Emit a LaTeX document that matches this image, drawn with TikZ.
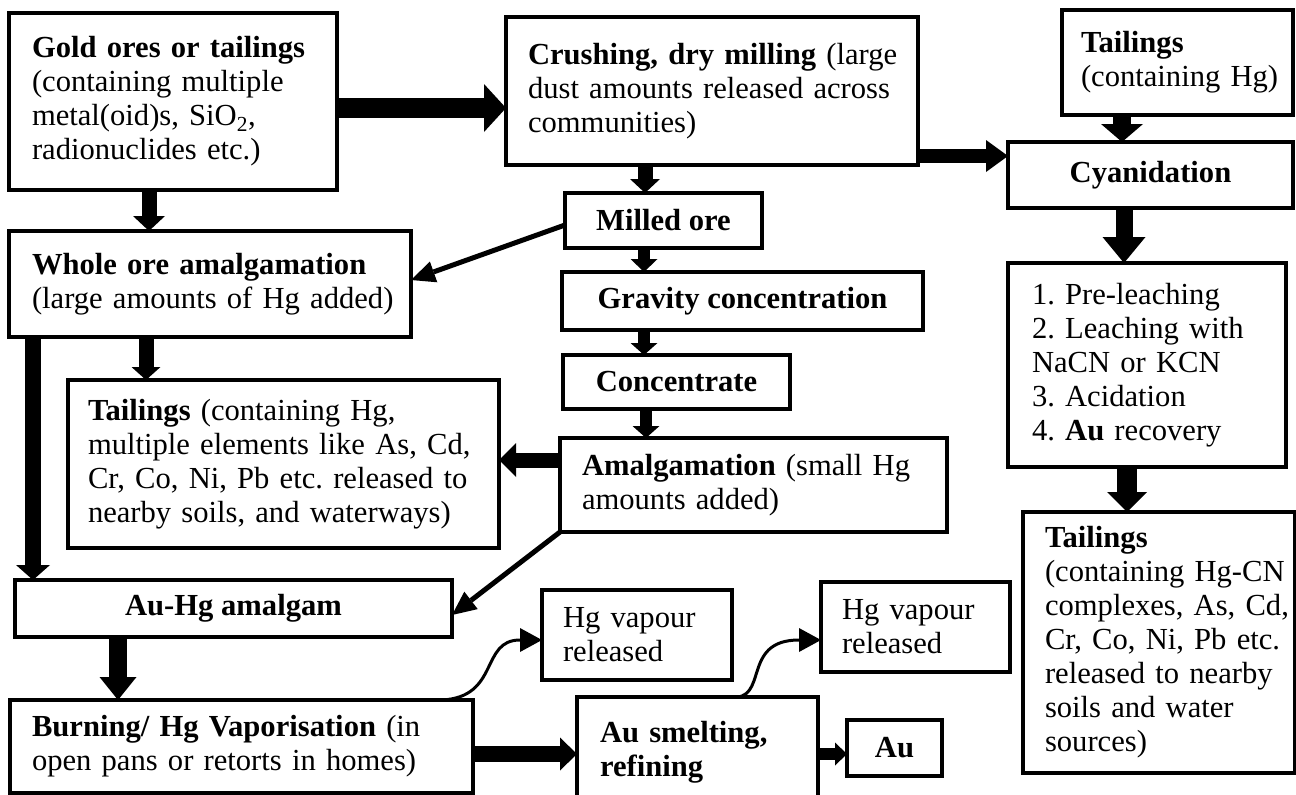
\documentclass[tikz,border=0pt]{standalone}
\usepackage{fontspec}
\setmainfont{Liberation Serif}
\usetikzlibrary{arrows.meta}
\frenchspacing
\tikzset{
  boxst/.style={draw, line width=3.5pt, outer sep=0pt, inner ysep=0pt,
    font=\fontsize{30.6pt}{34pt}\selectfont\frenchspacing},
  fatarrow/.style n args={3}{line width=#1, -{Triangle[width=#2,length=#3,line width=0pt]}},
  thinarrow/.style={line width=5pt, -{Triangle[width=22pt,length=24pt,line width=0pt]}},
  curvearrow/.style={line width=3pt, -{Triangle[width=24pt,length=22pt,line width=0pt]}}
}
% left-aligned box: name, x1, y1, x2, y2, left padding, text
\newcommand{\lbox}[7]{%
  \pgfmathsetmacro{\bxw}{#4-(#2)}%
  \pgfmathsetmacro{\bxh}{#5-(#3)}%
  \pgfmathsetmacro{\bxt}{#4-(#2)-2*(#6)}%
  \node[boxst, anchor=north west, minimum width=\bxw pt, minimum height=\bxh pt,
        inner xsep=0pt, text width=\bxt pt, align=left] (#1) at (#2,#3) {#7};}
% centred box: name, x1, y1, x2, y2, text
\newcommand{\cbox}[6]{%
  \pgfmathsetmacro{\bxw}{#4-(#2)}%
  \pgfmathsetmacro{\bxh}{#5-(#3)}%
  \node[boxst, anchor=north west, minimum width=\bxw pt, minimum height=\bxh pt,
        inner xsep=0pt, align=center] (#1) at (#2,#3) {#6};}
\begin{document}
\begin{tikzpicture}[x=1pt,y=-1pt]
\useasboundingbox (0,0) rectangle (1296,795);
\fill[white] (0,0) rectangle (1296,795);
\clip (0,0) rectangle (1296,795);

\lbox{gold}{9}{13}{337}{190}{23}{\mbox{\textbf{Gold ores or tailings}}\\\mbox{(containing multiple}\\\mbox{metal(oid)s, SiO\textsubscript{2},}\\\mbox{radionuclides etc.)}}
\lbox{crush}{506}{17}{918}{165}{22}{\mbox{\textbf{Crushing, dry milling} (large}\\\mbox{dust amounts released across}\\\mbox{communities)}}
\lbox{tailhg}{1062}{10}{1293}{115}{19}{\mbox{\textbf{Tailings}}\\\mbox{(containing Hg)}}
\cbox{cyan}{1008}{142}{1293}{208}{\textbf{Cyanidation}}
\lbox{pre}{1008}{263}{1286}{467}{24}{\mbox{1. Pre-leaching}\\\mbox{2. Leaching with}\\\mbox{NaCN or KCN}\\\mbox{3. Acidation}\\\mbox{4. \textbf{Au} recovery}}
\lbox{tailcn}{1023}{512}{1295}{773}{22}{\mbox{\textbf{Tailings}}\\\mbox{(containing Hg-CN}\\\mbox{complexes, As, Cd,}\\\mbox{Cr, Co, Ni, Pb etc.}\\\mbox{released to nearby}\\\mbox{soils and water}\\\mbox{sources)}}
\cbox{milled}{565}{193}{762}{248}{\textbf{Milled ore}}
\cbox{grav}{562}{272}{923}{330}{\textbf{Gravity concentration}}
\cbox{conc}{563}{355}{790}{409}{\textbf{Concentrate}}
\lbox{amalg}{560}{438}{947}{532}{22}{\mbox{\textbf{Amalgamation} (small Hg}\\\mbox{amounts added)}}
\lbox{whole}{9}{231}{411}{337}{23}{\mbox{\textbf{Whole ore amalgamation}}\\\mbox{(large amounts of Hg added)}}
\lbox{tailhgm}{68}{380}{499}{548}{20}{\mbox{\textbf{Tailings} (containing Hg,}\\\mbox{multiple elements like As, Cd,}\\\mbox{Cr, Co, Ni, Pb etc. released to}\\\mbox{nearby soils, and waterways)}}
\cbox{auhg}{15}{580}{452}{637}{\textbf{Au-Hg amalgam}}
\lbox{burn}{10}{700}{473}{793}{22}{\mbox{\textbf{Burning/ Hg Vaporisation} (in}\\\mbox{open pans or retorts in homes)}}
\lbox{smelt}{577}{697}{818}{808}{23}{\mbox{\textbf{Au smelting,}}\\\mbox{\textbf{refining}}}
\cbox{au}{847}{720}{942}{776}{\textbf{Au}}
\lbox{hga}{542}{590}{732}{680}{21}{\mbox{Hg vapour}\\\mbox{released}}
\lbox{hgb}{821}{582}{1010}{672}{21}{\mbox{Hg vapour}\\\mbox{released}}

% thick arrows
\draw[fatarrow={20pt}{48pt}{22pt}] (gold.east |- 0,108) -- (crush.west |- 0,108);
\draw[fatarrow={14pt}{32pt}{22pt}] (crush.east |- 0,156) -- (cyan.west |- 0,156);
\draw[fatarrow={18pt}{42pt}{18pt}] (1122,0 |- tailhg.south) -- (1122,0 |- cyan.north);
\draw[fatarrow={17pt}{43pt}{26pt}] (1124,0 |- cyan.south) -- (1124,0 |- pre.north);
\draw[fatarrow={20pt}{40pt}{20pt}] (1127,0 |- pre.south) -- (1127,0 |- tailcn.north);
\draw[fatarrow={15pt}{30pt}{14pt}] (645,0 |- crush.south) -- (645,0 |- milled.north);
\draw[fatarrow={12pt}{27pt}{13pt}] (644,0 |- milled.south) -- (644,0 |- grav.north);
\draw[fatarrow={12pt}{27pt}{12pt}] (644,0 |- grav.south) -- (644,0 |- conc.north);
\draw[fatarrow={12pt}{27pt}{12pt}] (646,0 |- conc.south) -- (646,0 |- amalg.north);
\draw[fatarrow={15pt}{32pt}{15pt}] (149,0 |- gold.south) -- (149,0 |- whole.north);
\draw[fatarrow={15pt}{29pt}{13pt}] (146,0 |- whole.south) -- (146,0 |- tailhgm.north);
\draw[fatarrow={16pt}{34pt}{15pt}] (33,0 |- whole.south) -- (33,0 |- auhg.north);
\draw[fatarrow={15pt}{34pt}{17pt}] (amalg.west |- 0,460) -- (tailhgm.east |- 0,460);
\draw[fatarrow={18pt}{37pt}{23pt}] (118,0 |- auhg.south) -- (118,0 |- burn.north);
\draw[fatarrow={16pt}{33pt}{17pt}] (burn.east |- 0,754) -- (smelt.west |- 0,754);
\draw[fatarrow={12pt}{23pt}{12pt}] (smelt.east |- 0,754) -- (au.west |- 0,754);

% thin straight arrows
\draw[thinarrow] (milled.west |- 0,225) -- (whole.east |- 0,280);
\draw[thinarrow] (amalg.south west) -- (auhg.east |- 0,615);

% curved arrows
\draw[curvearrow] (442,0 |- burn.north) .. controls (500,697) and (480,640) .. (hga.west |- 0,640);
\draw[curvearrow] (730,0 |- smelt.north) .. controls (770,702) and (740,640) .. (hgb.west |- 0,640);
\end{tikzpicture}
\end{document}
